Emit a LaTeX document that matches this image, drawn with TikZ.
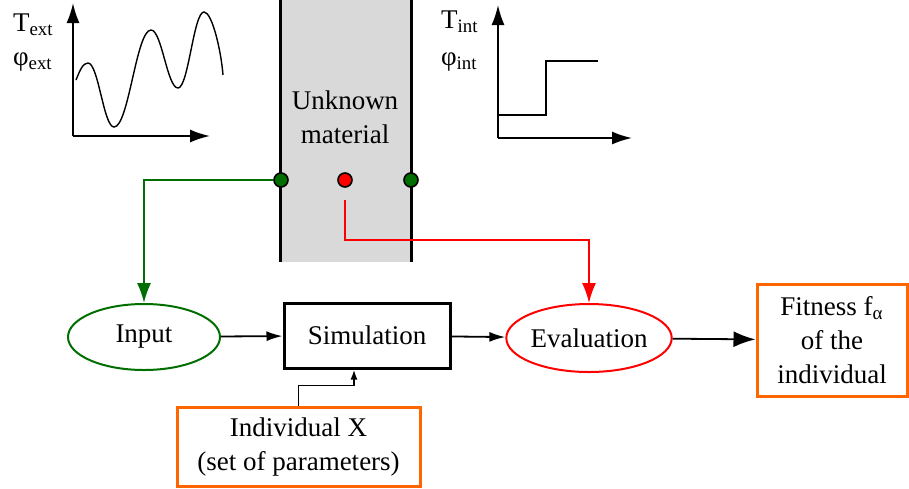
\documentclass[tikz,border=0pt]{standalone}
\usepackage{fontspec}
\setmainfont{Liberation Serif}
\usetikzlibrary{shapes.geometric,arrows.meta}
\definecolor{wallgray}{RGB}{217,217,217}
\definecolor{dkgreen}{RGB}{0,110,0}
\definecolor{boxorange}{RGB}{255,102,0}
\begin{document}
\begin{tikzpicture}[x=0.5pt,y=-0.5pt,font=\fontsize{13.5}{17}\selectfont]

      \tikzset{dot/.style={draw, circle, inner sep=0pt, minimum size=7pt, line width=0.8pt},
               oval/.style={draw, ellipse, inner sep=0pt, line width=1pt, minimum width=77pt, minimum height=34pt},
               block/.style={draw, line width=1.5pt, align=center},
               axis/.style={line width=0.9pt, -{Latex[length=10pt,width=6.5pt]}},
               link/.style={line width=0.9pt, -{Latex[length=10pt,width=7pt]}}}
      \useasboundingbox (0,0) rectangle (909,488);
%% Wall
      	\fill[wallgray] (280,0) rectangle (411,262);
      	\draw[line width=1.5pt] (280,0) -- (280,262);
      	\draw[line width=1.5pt] (411,0) -- (411,262);
      	\node[align=center] (wall) at (345,117) {Unknown\\material};
      	\node[dot, fill=dkgreen] (gl) at (281,180) {};
      	\node[dot, fill=red] (rd) at (345,180) {};
      	\node[dot, fill=dkgreen] (gr) at (411,180) {};
      	\coordinate (rs) at (345,200);
%% Outside signal
      	\node[anchor=west] (text) at (6,25) {T\textsubscript{ext}};
      	\node[anchor=west] (phiext) at (6,62) {φ\textsubscript{ext}};
      	\coordinate (o1) at (73,136);
      	\draw[axis] (o1) -- (73,3);
      	\draw[axis] (o1) -- (210,136);
      	\draw[line width=0.7pt] (76,80) .. controls (80,70) and (83,63) .. (88,63)
      	  .. controls (98.4,63) and (103.6,127) .. (114,127)
      	  .. controls (128.8,127) and (136.2,30) .. (151,30)
      	  .. controls (161.8,30) and (167.2,88) .. (178,88)
      	  .. controls (188.4,88) and (193.6,12) .. (204,12)
      	  .. controls (212,12) and (221,50) .. (223,75);
%% Inside signal
      	\node[anchor=west] (tint) at (434,22) {T\textsubscript{int}};
      	\node[anchor=west] (phiint) at (434,62) {φ\textsubscript{int}};
      	\coordinate (o2) at (498,138);
      	\draw[axis] (o2) -- (498,5);
      	\draw[axis] (o2) -- (632,138);
      	\draw[line width=0.9pt] (498,115) -- (546,115) -- (546,61) -- (598,61);
%% Process
      	\node[oval, draw=dkgreen, minimum width=76pt, minimum height=33pt] (input) at (144,337) {Input};
      	\node[block, minimum width=83pt, minimum height=32.5pt] (sim) at (367,335.5) {Simulation};
      	\node[oval, draw=red] (eval) at (589,338) {Evaluation};
      	\node[block, draw=boxorange, minimum width=75pt, minimum height=56pt] (fit) at (832,340) {Fitness f\textsubscript{α}\\of the\\individual};
      	\node[block, draw=boxorange, minimum width=121.5pt, minimum height=39.5pt] (indiv) at (298.5,446.5) {Individual X\\(set of parameters)};
%Edges
		\draw[link, dkgreen] (gl) -| (input);
		\draw[link, red] (rs) -- ++(0,40) -| (eval);
		\draw[link, -{Latex[length=8pt,width=5pt]}] (input) -- (sim);
		\draw[link, -{Latex[length=8pt,width=5pt]}] (sim) -- (eval);
		\draw[link, -{Latex[length=11pt,width=8pt]}] (eval) -- (fit);
		\draw[link, -{Latex[length=5pt,width=3.5pt]}] (indiv.north) -- ++(0,-20) -| ([xshift=-6.5pt]sim.south);

	\end{tikzpicture}
\end{document}
